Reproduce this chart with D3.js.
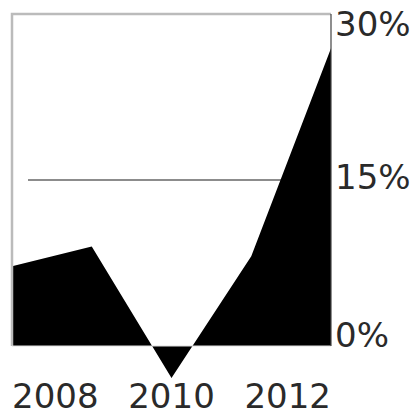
<!DOCTYPE html>
<html>
<head>
<meta charset="utf-8">
<script src="https://d3js.org/d3.v7.min.js"></script>
<style>
    body { margin: 0; background: #fff; }
    text { font-family: "DejaVu Sans", "Liberation Sans", Arial, sans-serif; fill: #2a2a2a; }
</style>
</head>
<body>
<svg id="chart" width="412" height="412"></svg>
<script>
var years = [2008, 2009, 2010, 2011, 2012];
var growth = [7.2, 9.0, -2.9, 8.1, 26.9];
var yTicks = [0, 15, 30];
var xLabels = [2008, 2010, 2012];

function AreaChart(svg){
    var _root = d3.select(svg);
    var _left = 12, _right = 331, _top = 14, _bottom = 346;

    var x = d3.scalePoint().domain(years).range([_left, _right]);
    var y = d3.scaleLinear().domain([0, 30]).range([_bottom, _top]);

    var data = years.map(function(d, i){ return {year: d, value: growth[i]}; });

    // mid gridline, starts a bit in from the frame
    _root.append('line')
        .attr('x1', _left + 16).attr('x2', _right)
        .attr('y1', y(15)).attr('y2', y(15))
        .attr('stroke', '#666').attr('stroke-width', 1.5);

    var area = d3.area()
        .x(function(d){ return x(d.year); })
        .y0(y(0))
        .y1(function(d){ return y(d.value); });

    _root.append('path')
        .datum(data)
        .attr('d', area)
        .attr('fill', '#000');

    // frame: light top/left, light zero line, dark right edge
    _root.append('path')
        .attr('d', "M" + _left + "," + _bottom + "V" + _top + "H" + _right)
        .attr('fill', 'none')
        .attr('stroke', '#bbb').attr('stroke-width', 2.5);

    _root.append('line')
        .attr('x1', _left).attr('x2', _right)
        .attr('y1', y(0)).attr('y2', y(0))
        .attr('stroke', '#ddd').attr('stroke-width', 1.2);

    _root.append('line')
        .attr('x1', _right).attr('x2', _right)
        .attr('y1', _top).attr('y2', _bottom)
        .attr('stroke', '#444').attr('stroke-width', 1.2);

    // y labels, first/last pulled inside the frame
    var yOff = {0: 1, 15: 9, 30: 22};
    _root.selectAll('text.ylab').data(yTicks).enter().append('text')
        .classed('ylab', true)
        .attr('x', _right + 4)
        .attr('y', function(d){ return y(d) + yOff[d]; })
        .style('font-size', '34px')
        .text(function(d){ return d + "%"; });

    var n = xLabels.length;
    _root.selectAll('text.xlab').data(xLabels).enter().append('text')
        .classed('xlab', true)
        .attr('x', function(d){ return x(d); })
        .attr('y', 408)
        .attr('text-anchor', function(d, i){ return i == 0 ? 'start' : (i == n - 1 ? 'end' : 'middle'); })
        .style('font-size', '34px')
        .text(function(d){ return d; });
}

AreaChart(document.getElementById('chart'));
</script>
</body>
</html>
